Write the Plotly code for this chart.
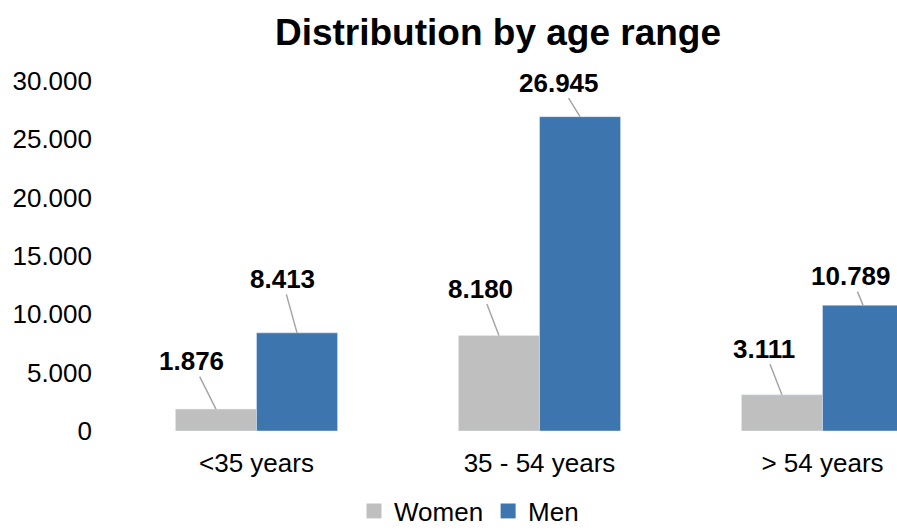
import plotly.graph_objects as go

categories = ["<35 years", "35 - 54 years", "> 54 years"]
women = [1876, 8180, 3111]
men = [8413, 26945, 10789]
series_names = ["Women", "Men"]

# label offsets (pixels) from bar top, style only
women_off = [(-24, -48), (-18, -47), (-18, -46)]
men_off = [(-15, -54), (-21, -34), (-12, -29)]

GRAY = "#BFBFBF"
BLUE = "#3D76AF"
FONT = "Liberation Sans, Arial, sans-serif"
BARGAP = 0.427

fig = go.Figure()
fig.add_trace(go.Bar(x=categories, y=women, name=series_names[0], marker_color=GRAY, showlegend=False))
fig.add_trace(go.Bar(x=categories, y=men, name=series_names[1], marker_color=BLUE, showlegend=False))
# legend proxies with larger square markers
for nm, col in zip(series_names, [GRAY, BLUE]):
    fig.add_trace(go.Scatter(x=[None], y=[None], mode="markers", name=nm,
                             marker=dict(symbol="square", size=15, color=col)))

def fmt(v):
    return f"{v:,}".replace(",", ".")

off = (1 - BARGAP) / 4
ann = []
for i in range(len(categories)):
    for vals, offs, sgn in [(women, women_off, -1), (men, men_off, 1)]:
        ann.append(dict(x=i + sgn * off, y=vals[i], xref="x", yref="y",
                        text=f"<b>{fmt(vals[i])}</b>", showarrow=True, arrowhead=0,
                        arrowwidth=1.5, arrowcolor="#A6A6A6", ax=offs[i][0], ay=offs[i][1],
                        font=dict(family=FONT, size=26, color="#000000"), standoff=0,
                        borderpad=0))

W, H = 897, 531
L, R, T, B = 115, 0, 81, 100
units = (W - L - R) / 283.0

fig.update_layout(
    width=W, height=H,
    margin=dict(l=L, r=R, t=T, b=B, autoexpand=False),
    paper_bgcolor="white", plot_bgcolor="white",
    separators=",.",
    barmode="group", bargap=BARGAP, bargroupgap=0,
    font=dict(family=FONT, size=26, color="#000000"),
    title=dict(text="<b>Distribution by age range</b>", x=498 / W, xanchor="center",
               xref="container", y=1 - 32 / H, yanchor="middle", yref="container",
               font=dict(family=FONT, size=37, color="#000000")),
    xaxis=dict(type="category", range=[-0.5, -0.5 + units], showline=False, showgrid=False,
               zeroline=False, ticks="", ticklabelstandoff=14,
               tickfont=dict(family=FONT, size=26, color="#000000")),
    yaxis=dict(range=[0, 30000], tickvals=[0, 5000, 10000, 15000, 20000, 25000, 30000],
               tickformat=",d", showline=False, showgrid=False, zeroline=False, ticks="",
               ticklabelstandoff=22, tickfont=dict(family=FONT, size=26, color="#000000")),
    legend=dict(orientation="h", xref="container", yref="container", x=469 / W, xanchor="center",
                y=(H - 511) / H, yanchor="middle", font=dict(family=FONT, size=26, color="#000000"),
                itemsizing="trace", tracegroupgap=0, bgcolor="rgba(0,0,0,0)"),
    annotations=ann,
)

fig.write_html("out.html", config={"displayModeBar": False},
               post_script="document.body.style.margin='0';document.body.style.overflow='hidden';")
